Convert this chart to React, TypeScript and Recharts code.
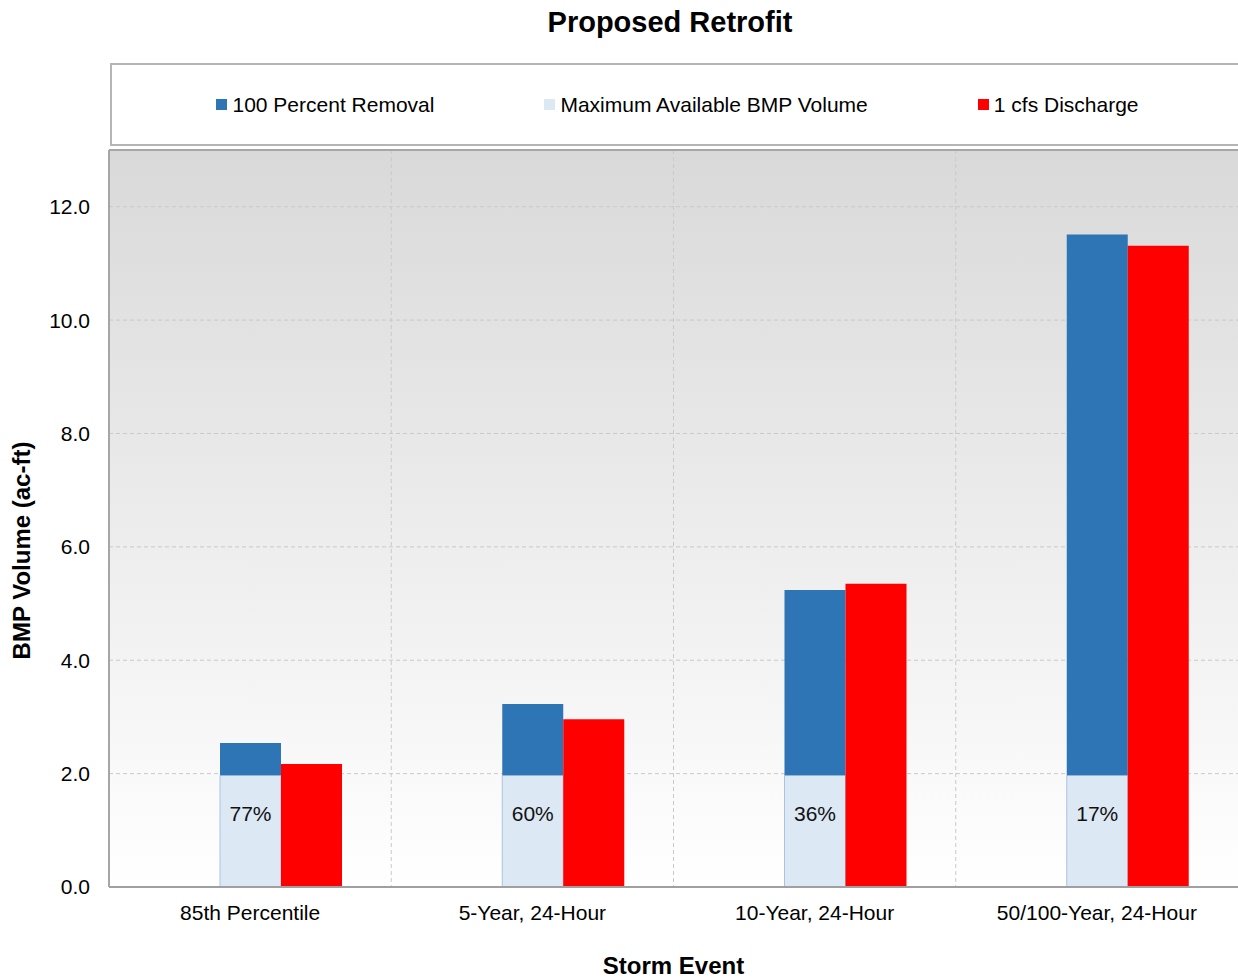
import React from "react";
import {
  Bar,
  BarChart,
  CartesianGrid,
  Label,
  LabelList,
  ReferenceLine,
  XAxis,
  YAxis
} from "recharts";

const categories = ["85th Percentile", "5-Year, 24-Hour", "10-Year, 24-Hour", "50/100-Year, 24-Hour"];
const fullRemoval = [2.54, 3.23, 5.24, 11.51];
const maxAvailable = [1.97, 1.97, 1.97, 1.97];
const cfsDischarge = [2.17, 2.96, 5.35, 11.31];
const percentLabels = ["77%", "60%", "36%", "17%"];
// empty first slot of each cluster (nothing drawn there in the original)
const blankSlot = [0, 0, 0, 0];
const yTicks = [0, 2, 4, 6, 8, 10, 12];

const legendItems = [
  { name: "100 Percent Removal", color: "#2e75b6" },
  { name: "Maximum Available BMP Volume", color: "#dde8f5" },
  { name: "1 cfs Discharge", color: "#ff0000" }
];

const rows = categories.map((name, i) => ({
  name,
  blank: blankSlot[i],
  available: maxAvailable[i],
  remainder: +(fullRemoval[i] - maxAvailable[i]).toFixed(2),
  discharge: cfsDischarge[i],
  pct: percentLabels[i]
}));

const font = '"Liberation Sans", Arial, sans-serif';

export default function App() {
  return (
    <div
      style={{
        position: "absolute",
        left: 0,
        top: 0,
        width: 1238,
        height: 979,
        overflow: "hidden",
        background: "#fff",
        fontFamily: font
      }}
    >
      <div
        style={{
          position: "absolute",
          left: 0,
          top: 8,
          width: 1340,
          textAlign: "center",
          fontWeight: "bold",
          fontSize: 29,
          lineHeight: "29px",
          color: "#000"
        }}
      >
        Proposed Retrofit
      </div>

      <div
        style={{
          position: "absolute",
          left: 110,
          top: 63,
          width: 1135,
          height: 83,
          boxSizing: "border-box",
          border: "2px solid #b5b5b5",
          display: "flex",
          alignItems: "center",
          justifyContent: "center",
          gap: 110,
          fontSize: 21,
          color: "#000"
        }}
      >
        {legendItems.map((item) => (
          <div key={item.name} style={{ display: "flex", alignItems: "center" }}>
            <span
              style={{
                display: "inline-block",
                width: 11,
                height: 11,
                background: item.color,
                marginRight: 5
              }}
            />
            <span>{item.name}</span>
          </div>
        ))}
      </div>

      <div style={{ position: "absolute", left: 0, top: 0 }}>
        <BarChart
          width={1238}
          height={979}
          data={rows}
          margin={{ top: 150, right: 0, left: 0, bottom: 0 }}
          barSize={61}
          barGap={0}
        >
          <defs>
            <linearGradient id="plotBg" x1="0" y1="0" x2="0" y2="1">
              <stop offset="0%" stopColor="#d9d9d9" />
              <stop offset="100%" stopColor="#ffffff" />
            </linearGradient>
          </defs>
          <CartesianGrid
            fill="url(#plotBg)"
            fillOpacity={1}
            stroke="#c9c9c9"
            strokeDasharray="4 3"
            verticalCoordinatesGenerator={({ offset }: any) =>
              [1, 2, 3].map((k) => offset.left + (k * offset.width) / 4)
            }
          />
          <XAxis
            dataKey="name"
            interval={0}
            height={92}
            tickLine={false}
            tickSize={0}
            tickMargin={18}
            axisLine={{ stroke: "#a0a0a0", strokeWidth: 2 }}
            tick={{ fill: "#000", fontSize: 21, fontFamily: font }}
          >
            <Label
              value="Storm Event"
              position="insideBottom"
              offset={5}
              style={{ fontWeight: "bold", fontSize: 24, fill: "#000", fontFamily: font }}
            />
          </XAxis>
          <YAxis
            type="number"
            domain={[0, 13]}
            ticks={yTicks}
            width={109}
            tickLine={false}
            tickSize={0}
            tickMargin={19}
            tickFormatter={(v: number) => v.toFixed(1)}
            axisLine={{ stroke: "#a6a6a6", strokeWidth: 2 }}
            tick={{ fill: "#000", fontSize: 21, fontFamily: font }}
          >
            <Label
              content={({ viewBox }: any) => {
                const x = viewBox.x + 21;
                const y = viewBox.y + viewBox.height / 2 + 32;
                return (
                  <text
                    x={x}
                    y={y}
                    transform={`rotate(-90, ${x}, ${y})`}
                    textAnchor="middle"
                    dominantBaseline="central"
                    style={{ fontWeight: "bold", fontSize: 24, fill: "#000", fontFamily: font }}
                  >
                    BMP Volume (ac-ft)
                  </text>
                );
              }}
            />
          </YAxis>
          <ReferenceLine y={13} stroke="#a6a6a6" strokeWidth={2} />
          <Bar
            dataKey="blank"
            stackId="slot1"
            fill="none"
            legendType="none"
            isAnimationActive={false}
          />
          <Bar
            dataKey="available"
            stackId="slot2"
            fill="#dde8f5"
            stroke="#a9c3e0"
            strokeWidth={1}
            name="Maximum Available BMP Volume"
            isAnimationActive={false}
          >
            <LabelList
              dataKey="pct"
              position="insideTop"
              offset={31}
              fill="#111"
              fontSize={21}
              fontFamily={font}
            />
          </Bar>
          <Bar
            dataKey="remainder"
            stackId="slot2"
            fill="#2e75b6"
            name="100 Percent Removal"
            isAnimationActive={false}
          />
          <Bar
            dataKey="discharge"
            stackId="slot3"
            fill="#ff0000"
            name="1 cfs Discharge"
            isAnimationActive={false}
          />
        </BarChart>
      </div>
    </div>
  );
}
